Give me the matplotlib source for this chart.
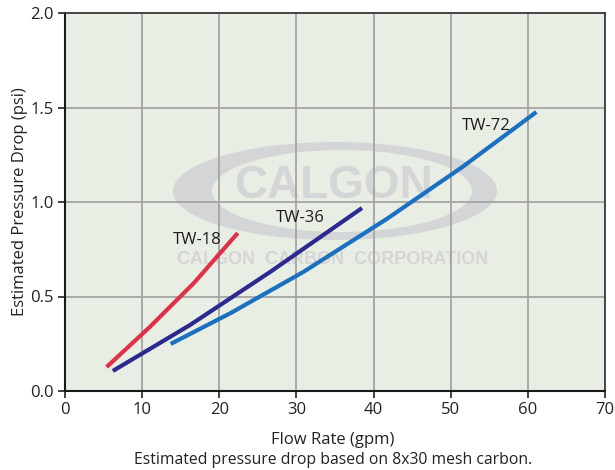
import numpy as np
import matplotlib
matplotlib.use("Agg")
import matplotlib.pyplot as plt
from matplotlib.patches import Ellipse

plt.rcParams['font.family'] = ['Open Sans', 'DejaVu Sans']

# flow rate (gpm) vs estimated pressure drop (psi)
tw18_flow = [5.4, 11.0, 16.7, 22.4]
tw18_dp = [0.127, 0.339, 0.571, 0.836]
tw36_flow = [6.2, 16.2, 26.6, 38.5]
tw36_dp = [0.106, 0.349, 0.630, 0.968]
tw72_flow = [13.7, 21.5, 30.9, 41.7, 51.5, 61.1]
tw72_dp = [0.249, 0.413, 0.630, 0.910, 1.185, 1.476]

series = [("TW-18", tw18_flow, tw18_dp, "#e0314b", (17.2, 0.80)),
          ("TW-36", tw36_flow, tw36_dp, "#2c2a8e", (30.5, 0.915)),
          ("TW-72", tw72_flow, tw72_dp, "#1b70c0", (54.6, 1.40))]

x_ticks = [0, 10, 20, 30, 40, 50, 60, 70]
y_ticks = [0.0, 0.5, 1.0, 1.5, 2.0]

bg = "#e8eee3"
wm = "#d3d5d6"
txt = "#222222"

fig = plt.figure(figsize=(6.15, 4.70), dpi=100)
ax = fig.add_axes([65/615, 1 - 391/470, 540/615, 378/470])
ax.set_facecolor(bg)
ax.set_xlim(0, 70)
ax.set_ylim(0, 2.0)
ax.set_xticks(x_ticks)
ax.set_yticks(y_ticks)
ax.set_yticklabels([f"{v:.1f}" for v in y_ticks])
ax.set_axisbelow(True)
ax.grid(True, color="#a3a5a3", linewidth=1.3)
ax.tick_params(direction="out", length=5, width=1.2, labelsize=12,
               colors=txt, pad=3)
for side in ("left", "bottom"):
  ax.spines[side].set_linewidth(1.5)
  ax.spines[side].set_color("#1a1a1a")
for side in ("top", "right"):
  ax.spines[side].set_linewidth(1.3)
  ax.spines[side].set_color("#3a3a3a")

# watermark, placed in pixel terms of the figure
def px(x, y):
  return x / 615, 1 - y / 470

outer = Ellipse(px(335, 191), 324/615, 98/470, transform=fig.transFigure,
                facecolor=wm, edgecolor="none", zorder=0.1)
inner = Ellipse(px(342, 191), 260/615, 82/470, transform=fig.transFigure,
                facecolor=bg, edgecolor="none", zorder=0.2)
ax.add_patch(outer)
ax.add_patch(inner)
ax.text(*px(334, 186), "CALGON", transform=fig.transFigure, fontsize=33,
        family="Liberation Sans", fontweight="bold", color=wm,
        ha="center", va="center", zorder=0.3)
ax.text(*px(333, 259), "CALGON  CARBON  CORPORATION",
        transform=fig.transFigure, fontsize=13, family="Liberation Sans",
        fontweight="bold", color=wm, ha="center", va="center", zorder=0.3)

for name, xs, ys, color, (lx, ly) in series:
  ax.plot(xs, ys, color=color, linewidth=3, solid_capstyle="butt",
          solid_joinstyle="round", zorder=3)
  ax.text(lx, ly, name, fontsize=12, color="#1e1e1e", ha="center",
          va="center", zorder=4)

ax.set_ylabel("Estimated Pressure Drop (psi)", fontsize=12, color=txt,
              va="center")
ax.yaxis.set_label_coords(-45/540, 0.5)
ax.set_xlabel("Flow Rate (gpm)", fontsize=12, color=txt, va="center")
ax.xaxis.set_label_coords(268/540, -49/378)
fig.text(*px(333, 460), "Estimated pressure drop based on 8x30 mesh carbon.",
         fontsize=11.3, color=txt, ha="center", va="center")

fig.savefig("out.png", dpi=100)
